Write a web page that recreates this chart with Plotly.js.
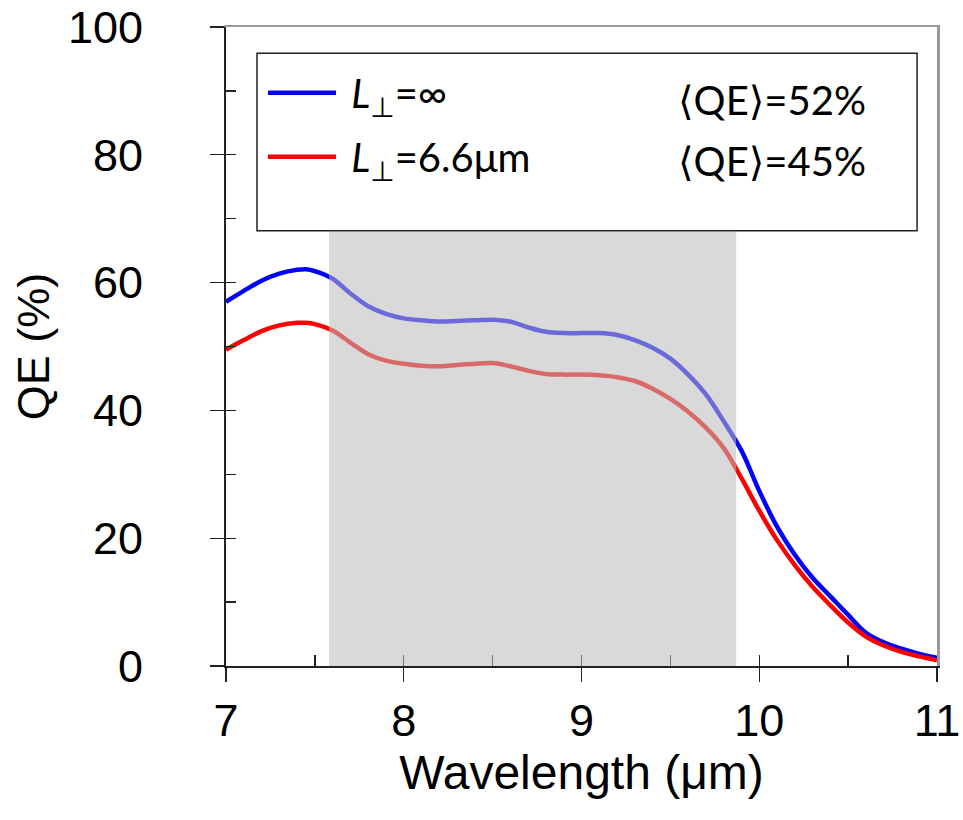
<!DOCTYPE html>
<html>
<head>
<meta charset="utf-8">
<script src="https://cdn.plot.ly/plotly-3.0.1.min.js"></script>
<style>html,body{margin:0;padding:0;background:#fff;}#chart{width:963px;height:820px;}</style>
</head>
<body>
<div id="chart"></div>
<script>
// Wavelength (µm)
const wavelength = [7.0,7.1,7.2,7.3,7.4,7.45,7.5,7.6,7.7,7.8,7.9,8.0,8.1,8.2,8.3,8.4,8.5,8.6,8.7,8.8,8.9,9.0,9.1,9.2,9.3,9.4,9.5,9.6,9.7,9.8,9.9,10.0,10.1,10.2,10.3,10.4,10.5,10.6,10.7,10.8,10.9,11.0];
// QE (%) for L⊥ = ∞
const qeInfinite = [57.0,58.7,60.3,61.4,62.0,62.1,61.8,60.6,58.3,56.3,55.1,54.4,54.1,53.9,54.0,54.1,54.2,53.9,53.0,52.3,52.1,52.1,52.1,51.8,51.0,49.8,48.1,45.6,42.5,38.3,33.7,27.4,21.8,17.4,13.8,10.9,8.0,5.2,3.7,2.7,1.9,1.3];
// QE (%) for L⊥ = 6.6 µm
const qeFinite = [49.5,51.0,52.4,53.3,53.7,53.7,53.5,52.5,50.6,48.8,47.8,47.3,47.0,46.9,47.1,47.3,47.4,46.9,46.2,45.7,45.6,45.6,45.5,45.2,44.6,43.4,41.8,39.8,37.3,34.1,29.4,24.3,19.7,15.8,12.4,9.5,6.8,4.6,3.2,2.2,1.5,0.9];
const seriesNames = ['\u00a0<i>L</i><sub>⊥</sub>=∞', '\u00a0<i>L</i><sub>⊥</sub>=6.6μm'];
const meanQE = ['⟨QE⟩=52%', '⟨QE⟩=45%'];
const bandX = [7.58, 9.87];
const bandY = [0, 68];
const xTicks = [7, 8, 9, 10, 11];
const yTicks = [0, 20, 40, 60, 80, 100];

const tickFont = {family: 'Liberation Sans, Arial, sans-serif', size: 45, color: '#000'};
const titleFont = {family: 'Liberation Sans, Arial, sans-serif', size: 48, color: '#000'};
const legFont = {family: 'Lato, Noto Sans, DejaVu Sans, sans-serif', size: 40, color: '#000'};

const traces = [
  {x: wavelength, y: qeInfinite, name: seriesNames[0], type: 'scatter', mode: 'lines',
   line: {color: '#0000ff', width: 4.5, shape: 'spline', smoothing: 1}, legendgroup: 'a'},
  {x: wavelength, y: qeFinite, name: seriesNames[1], type: 'scatter', mode: 'lines',
   line: {color: '#ff0000', width: 4.5, shape: 'spline', smoothing: 1}, legendgroup: 'b'},
  // empty helper traces so the overlay axes (inner ticks, grey frame) are created
  {x: [], y: [], type: 'scatter', mode: 'lines', xaxis: 'x2', yaxis: 'y2', showlegend: false, hoverinfo: 'skip'},
  {x: [], y: [], type: 'scatter', mode: 'lines', xaxis: 'x3', yaxis: 'y3', showlegend: false, hoverinfo: 'skip'}
];

const xr = [7, 11], yr = [0, 100];
const noLine = {showgrid: false, zeroline: false, showticklabels: false};
const layout = {
  width: 963, height: 820,
  margin: {l: 226, r: 26, t: 27, b: 154},
  paper_bgcolor: '#fff', plot_bgcolor: '#fff',
  showlegend: true,
  legend: {x: 0.052, y: 0.948, xanchor: 'left', yanchor: 'top', bgcolor: 'rgba(0,0,0,0)',
    borderwidth: 0, font: legFont, itemwidth: 68, tracegroupgap: 9, traceorder: 'grouped'},
  xaxis: {range: xr, tickvals: xTicks, ticktext: xTicks.map(String), ticks: 'outside', ticklen: 14, tickwidth: 1.3,
    tickcolor: '#222', showline: true, linecolor: '#222', linewidth: 2, showgrid: false, zeroline: false,
    tickfont: tickFont, fixedrange: true,
    title: {text: 'Wavelength (μm)', font: titleFont, standoff: 4}},
  xaxis2: Object.assign({range: xr, overlaying: 'x', anchor: 'y2', side: 'bottom', tickmode: 'linear', dtick: 0.5, tick0: 7,
    ticks: 'inside', ticklen: 11, tickwidth: 1.3, tickcolor: '#222', showline: false}, noLine),
  yaxis2: Object.assign({range: yr, overlaying: 'y', anchor: 'x2', side: 'left', tickmode: 'linear', dtick: 10, tick0: 0,
    ticks: 'inside', ticklen: 10, tickwidth: 1.3, tickcolor: '#222', showline: false}, noLine),
  xaxis3: Object.assign({range: xr, overlaying: 'x', anchor: 'y3', side: 'top', ticks: '',
    showline: true, linecolor: '#999', linewidth: 2.5}, noLine),
  yaxis3: Object.assign({range: yr, overlaying: 'y', anchor: 'x3', side: 'right', ticks: '',
    showline: true, linecolor: '#999', linewidth: 2.5}, noLine),
  yaxis: {range: yr, tickvals: yTicks, ticktext: yTicks.map(String), ticks: 'outside', ticklen: 14, tickwidth: 1.3,
    tickcolor: '#222', showline: true, linecolor: '#222', linewidth: 2, showgrid: false, zeroline: false,
    tickfont: tickFont, ticklabelstandoff: 58, fixedrange: true,
    title: {text: 'QE (%)', font: tickFont, standoff: 4}},
  shapes: [
    {type: 'rect', xref: 'x', yref: 'y', x0: bandX[0], x1: bandX[1], y0: bandY[0], y1: bandY[1],
     fillcolor: 'rgba(188,188,188,0.565)', line: {width: 0}, layer: 'above'},
    {type: 'rect', xref: 'paper', yref: 'paper', x0: 0.0436, x1: 0.972, y0: 0.681, y1: 0.959,
     fillcolor: 'rgba(0,0,0,0)', line: {color: '#222', width: 1.5}, layer: 'above'}
  ],
  annotations: [
    {xref: 'paper', yref: 'paper', x: 0.768, y: 0.886, xanchor: 'center', yanchor: 'middle', text: meanQE[0], showarrow: false, font: legFont},
    {xref: 'paper', yref: 'paper', x: 0.768, y: 0.790, xanchor: 'center', yanchor: 'middle', text: meanQE[1], showarrow: false, font: legFont}
  ]
};

Plotly.newPlot('chart', traces, layout, {staticPlot: true, displayModeBar: false});
</script>
</body>
</html>
